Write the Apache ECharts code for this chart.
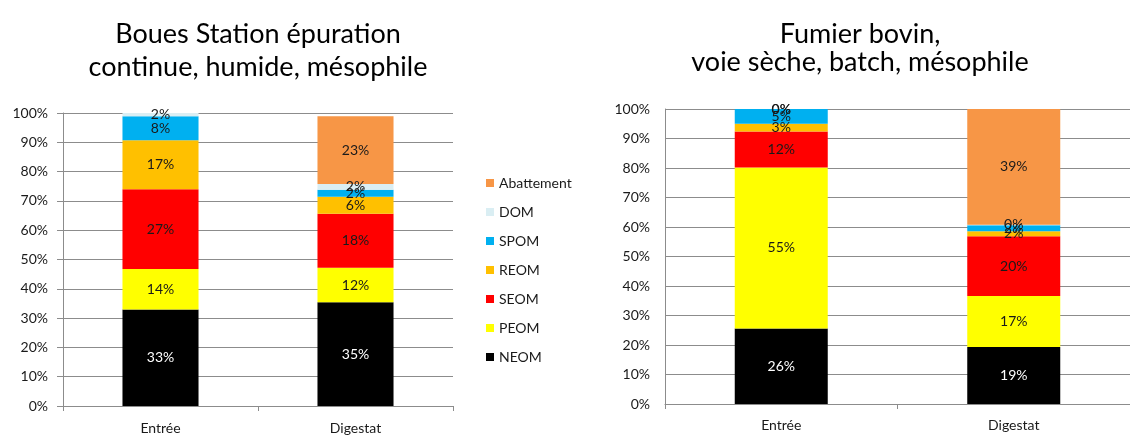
<!DOCTYPE html>
<html>
<head>
<meta charset="utf-8">
<script src="https://cdn.jsdelivr.net/npm/echarts@6/dist/echarts.min.js"></script>
<style>
  html, body { margin: 0; padding: 0; background: #fff; }
  #charts { width: 1130px; height: 435px; }
</style>
</head>
<body>
<div id="charts"></div>
<script>
var categories = ['Entrée', 'Digestat'];
var seriesNames = ['NEOM', 'PEOM', 'SEOM', 'REOM', 'SPOM', 'DOM', 'Abattement'];
var seriesColors = ['#000000', '#FFFF00', '#FF0000', '#FFC000', '#00B0F0', '#DAEEF3', '#F79646'];
var yTicks = [0, 10, 20, 30, 40, 50, 60, 70, 80, 90, 100];

// Boues Station épuration (gauche)
var bouesNEOM = [32.9, 35.4];
var bouesPEOM = [13.9, 11.8];
var bouesSEOM = [27.2, 18.4];
var bouesREOM = [16.7, 5.8];
var bouesSPOM = [8.2, 2.4];
var bouesDOM = [1.5, 2.0];
var bouesAbattement = [null, 23.1];

// Fumier bovin (droite)
var fumierNEOM = [25.6, 19.3];
var fumierPEOM = [54.6, 17.3];
var fumierSEOM = [12.2, 20.3];
var fumierREOM = [2.6, 1.7];
var fumierSPOM = [5.0, 2.0];
var fumierDOM = [0, 0.2];
var fumierAbattement = [0, 39.2];

var bouesData = [bouesNEOM, bouesPEOM, bouesSEOM, bouesREOM, bouesSPOM, bouesDOM, bouesAbattement];
var fumierData = [fumierNEOM, fumierPEOM, fumierSEOM, fumierREOM, fumierSPOM, fumierDOM, fumierAbattement];

var font = 'Lato, "Open Sans", sans-serif';
var myChart = echarts.init(document.getElementById('charts'));

function makeSeries(dataList, idx, barWidth) {
    return seriesNames.map(function (name, k) {
        return {
            name: name,
            type: 'bar',
            stack: 'total' + idx,
            xAxisIndex: idx,
            yAxisIndex: idx,
            barWidth: barWidth,
            data: dataList[k],
            itemStyle: { color: seriesColors[k] },
            label: {
                show: true,
                position: 'inside',
                fontFamily: font,
                fontSize: 14,
                color: name === 'NEOM' ? '#ffffff' : '#1a1a1a',
                formatter: function (p) {
                    if (p.value == null) return '';
                    return Math.round(p.value) + '%';
                }
            }
        };
    });
}

function xAxisFor(idx, margin) {
    return {
        type: 'category',
        gridIndex: idx,
        data: categories,
        axisLine: { lineStyle: { color: '#8c8c8c' } },
        axisTick: { show: true, length: 5, lineStyle: { color: '#8c8c8c' } },
        axisLabel: { fontFamily: font, fontSize: 14, color: '#1a1a1a', margin: margin }
    };
}

function yAxisFor(idx, showTick) {
    return {
        type: 'value',
        gridIndex: idx,
        min: 0,
        max: 100,
        interval: 10,
        axisLine: { show: true, lineStyle: { color: '#8c8c8c' } },
        axisTick: { show: showTick, length: 6, lineStyle: { color: '#8c8c8c' } },
        splitLine: { lineStyle: { color: '#8c8c8c' } },
        axisLabel: {
            fontFamily: font, fontSize: 14, color: '#1a1a1a', margin: 15,
            formatter: function (v) { return yTicks.indexOf(v) >= 0 ? v + '%' : ''; }
        }
    };
}

var option = {
    animation: false,
    title: [
        {
            text: 'Boues Station épuration\ncontinue, humide, mésophile',
            left: 258, top: 18, textAlign: 'center', padding: 0,
            textStyle: { fontFamily: font, fontSize: 27, fontWeight: 'normal', color: '#000', lineHeight: 33 }
        },
        {
            text: 'Fumier bovin,\nvoie sèche, batch, mésophile',
            left: 860, top: 20, textAlign: 'center', padding: 0,
            textStyle: { fontFamily: font, fontSize: 27, fontWeight: 'normal', color: '#000', lineHeight: 28 }
        }
    ],
    legend: {
        orient: 'vertical',
        left: 481,
        top: 171,
        icon: 'rect',
        itemWidth: 8,
        itemHeight: 8,
        itemGap: 15,
        data: seriesNames.slice().reverse(),
        textStyle: { fontFamily: font, fontSize: 14, color: '#1a1a1a' }
    },
    grid: [
        { left: 63, top: 113, width: 390, height: 294 },
        { left: 665, top: 109, width: 470, height: 295 }
    ],
    xAxis: [xAxisFor(0, 15), xAxisFor(1, 14)],
    yAxis: [yAxisFor(0, true), yAxisFor(1, false)],
    series: makeSeries(bouesData, 0, '39%').concat(makeSeries(fumierData, 1, '40%'))
};

myChart.setOption(option);
window.addEventListener('resize', function () {
    myChart.resize();
});
</script>
</body>
</html>
